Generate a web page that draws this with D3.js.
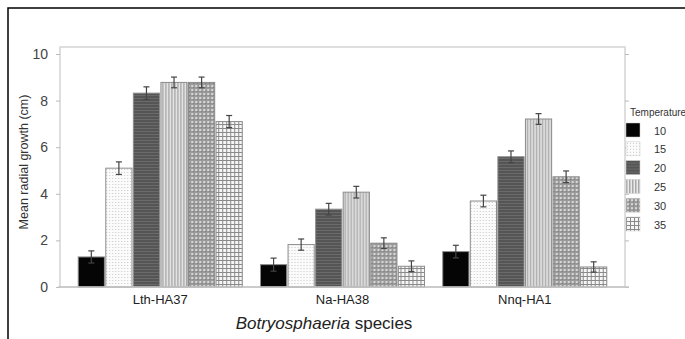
<!DOCTYPE html>
<html>
<head>
<meta charset="utf-8">
<script src="https://cdn.jsdelivr.net/npm/d3@7"></script>
<style>
  body { margin: 0; background: #fff; }
  svg { display: block; font-family: "Liberation Sans", Arial, sans-serif; }
</style>
</head>
<body>
<script>
const species = ["Lth-HA37", "Na-HA38", "Nnq-HA1"];
const temps = ["10", "15", "20", "25", "30", "35"];
// mean radial growth (cm), one array per temperature, in species order
const growth10 = [1.29, 0.96, 1.52];
const growth15 = [5.10, 1.82, 3.69];
const growth20 = [8.32, 3.34, 5.59];
const growth25 = [8.78, 4.07, 7.21];
const growth30 = [8.78, 1.88, 4.73];
const growth35 = [7.10, 0.89, 0.86];
// standard errors
const err10 = [0.26, 0.28, 0.27];
const err15 = [0.27, 0.24, 0.25];
const err20 = [0.27, 0.25, 0.25];
const err25 = [0.23, 0.25, 0.23];
const err30 = [0.23, 0.23, 0.25];
const err35 = [0.26, 0.23, 0.22];
const yTicks = [0, 2, 4, 6, 8, 10];

const growth = [growth10, growth15, growth20, growth25, growth30, growth35];
const errs = [err10, err15, err20, err25, err30, err35];

const width = 685, height = 339;
const mLeft = 60, mRight = 625, mTop = 47, mBottom = 287;

const svg = d3.select("body")
    .append("svg")
    .attr("width", width)
    .attr("height", height);

// fill patterns for the six temperatures
const defs = svg.append("defs");

function pattern(id, w, h, bg) {
    const p = defs.append("pattern")
        .attr("id", id)
        .attr("patternUnits", "userSpaceOnUse")
        .attr("width", w)
        .attr("height", h);
    p.append("rect").attr("width", w).attr("height", h).attr("fill", bg);
    return p;
}

pattern("p10", 4, 4, "#050505");

const p15 = pattern("p15", 3, 3, "#fbfbfb");
p15.append("rect").attr("x", 1).attr("y", 1).attr("width", 1).attr("height", 1).attr("fill", "#c8c8c8");

const p20 = pattern("p20", 4, 3, "#555");
p20.append("rect").attr("y", 2).attr("width", 4).attr("height", 1).attr("fill", "#6a6a6a");

const p25 = pattern("p25", 3, 4, "#eaeaea");
p25.append("rect").attr("x", 0).attr("width", 1.5).attr("height", 4).attr("fill", "#a8a8a8");

const p30 = pattern("p30", 4, 4, "#9a9a9a");
p30.append("rect").attr("x", 1).attr("y", 1).attr("width", 2).attr("height", 2).attr("fill", "#d6d6d6");
p30.append("rect").attr("x", 3).attr("y", 3).attr("width", 1).attr("height", 1).attr("fill", "#777");

const p35 = pattern("p35", 4, 4, "#f6f6f6");
p35.append("rect").attr("width", 4).attr("height", 1).attr("fill", "#8a8a8a");
p35.append("rect").attr("width", 1).attr("height", 4).attr("fill", "#8a8a8a");

const fills = temps.map(t => `url(#p${t})`);

// outer frame
svg.append("path")
    .attr("d", `M8,${height} V8 H${width}`)
    .attr("fill", "none")
    .attr("stroke", "#000")
    .attr("stroke-width", 1.5);

const x0 = d3.scaleBand()
    .domain(species)
    .range([mLeft, mRight])
    .paddingInner(0.1)
    .paddingOuter(0.1);

const x1 = d3.scaleBand()
    .domain(temps)
    .range([0, x0.bandwidth()])
    .paddingInner(0.05);

const y = d3.scaleLinear()
    .domain([0, 10])
    .range([mBottom, 54]);

// plot frame
svg.append("rect")
    .attr("x", mLeft)
    .attr("y", mTop)
    .attr("width", mRight - mLeft)
    .attr("height", mBottom - mTop)
    .attr("fill", "none")
    .attr("stroke", "#d4d4d4")
    .attr("stroke-width", 1.5);

const yAxis = svg.append("g")
    .attr("transform", `translate(${mLeft},0)`)
    .call(d3.axisLeft(y).tickValues(yTicks).tickSize(4).tickPadding(8));
yAxis.select(".domain").remove();
yAxis.selectAll("line").attr("stroke", "#bbb");
yAxis.selectAll("text")
    .attr("fill", "#444")
    .style("font-size", "14px");

const yAxisR = svg.append("g")
    .attr("transform", `translate(${mRight},0)`)
    .call(d3.axisRight(y).tickValues(yTicks).tickSize(4).tickFormat(""));
yAxisR.select(".domain").remove();
yAxisR.selectAll("line").attr("stroke", "#bbb");

// bars
const groups = svg.append("g")
    .selectAll("g")
    .data(species)
    .join("g")
    .attr("transform", d => `translate(${x0(d)},0)`);

groups.selectAll("rect")
    .data((d, i) => temps.map((t, j) => ({t, v: growth[j][i], e: errs[j][i], j})))
    .join("rect")
    .attr("x", d => x1(d.t))
    .attr("y", d => y(d.v))
    .attr("width", x1.bandwidth())
    .attr("height", d => y(0) - y(d.v))
    .attr("fill", d => fills[d.j])
    .attr("stroke", "#8c8c8c")
    .attr("stroke-width", 1);

// error bars
const eb = groups.selectAll("g.err")
    .data((d, i) => temps.map((t, j) => ({t, v: growth[j][i], e: errs[j][i]})))
    .join("g")
    .attr("class", "err")
    .attr("stroke", "#444")
    .attr("stroke-width", 1.2);

eb.append("line")
    .attr("x1", d => x1(d.t) + x1.bandwidth() / 2)
    .attr("x2", d => x1(d.t) + x1.bandwidth() / 2)
    .attr("y1", d => y(d.v - d.e))
    .attr("y2", d => y(d.v + d.e));
eb.selectAll("line.cap")
    .data(d => [d.v - d.e, d.v + d.e].map(w => ({t: d.t, w})))
    .join("line")
    .attr("class", "cap")
    .attr("x1", d => x1(d.t) + x1.bandwidth() / 2 - 3)
    .attr("x2", d => x1(d.t) + x1.bandwidth() / 2 + 3)
    .attr("y1", d => y(d.w))
    .attr("y2", d => y(d.w));

// baseline
svg.append("line")
    .attr("x1", mLeft - 2)
    .attr("x2", mRight + 4)
    .attr("y1", mBottom)
    .attr("y2", mBottom)
    .attr("stroke", "#c4c4c4")
    .attr("stroke-width", 1.5);

// category labels
svg.append("g")
    .selectAll("text")
    .data(species)
    .join("text")
    .attr("x", d => x0(d) + x0.bandwidth() / 2)
    .attr("y", 304)
    .attr("text-anchor", "middle")
    .attr("fill", "#222")
    .style("font-size", "13px")
    .text(d => d);

const xTitle = svg.append("text")
    .attr("x", 324)
    .attr("y", 329)
    .attr("text-anchor", "middle")
    .attr("fill", "#222")
    .style("font-size", "17px");
xTitle.append("tspan").attr("font-style", "italic").text("Botryosphaeria");
xTitle.append("tspan").text(" species");

svg.append("text")
    .attr("transform", "translate(28,162) rotate(-90)")
    .attr("text-anchor", "middle")
    .attr("fill", "#333")
    .style("font-size", "12.5px")
    .text("Mean radial growth (cm)");

// legend
const legend = svg.append("g").attr("transform", "translate(626,0)");
legend.append("text")
    .attr("x", 4)
    .attr("y", 116)
    .attr("fill", "#333")
    .style("font-size", "10px")
    .text("Temperature");

const items = legend.selectAll("g.item")
    .data(temps)
    .join("g")
    .attr("class", "item")
    .attr("transform", (d, i) => `translate(0,${123 + i * 18.8})`);
items.append("rect")
    .attr("width", 14)
    .attr("height", 14)
    .attr("fill", (d, i) => fills[i])
    .attr("stroke", "#ccc")
    .attr("stroke-width", 0.5);
items.append("text")
    .attr("x", 28)
    .attr("y", 11.5)
    .attr("fill", "#333")
    .style("font-size", "11px")
    .text(d => d);
</script>
</body>
</html>
